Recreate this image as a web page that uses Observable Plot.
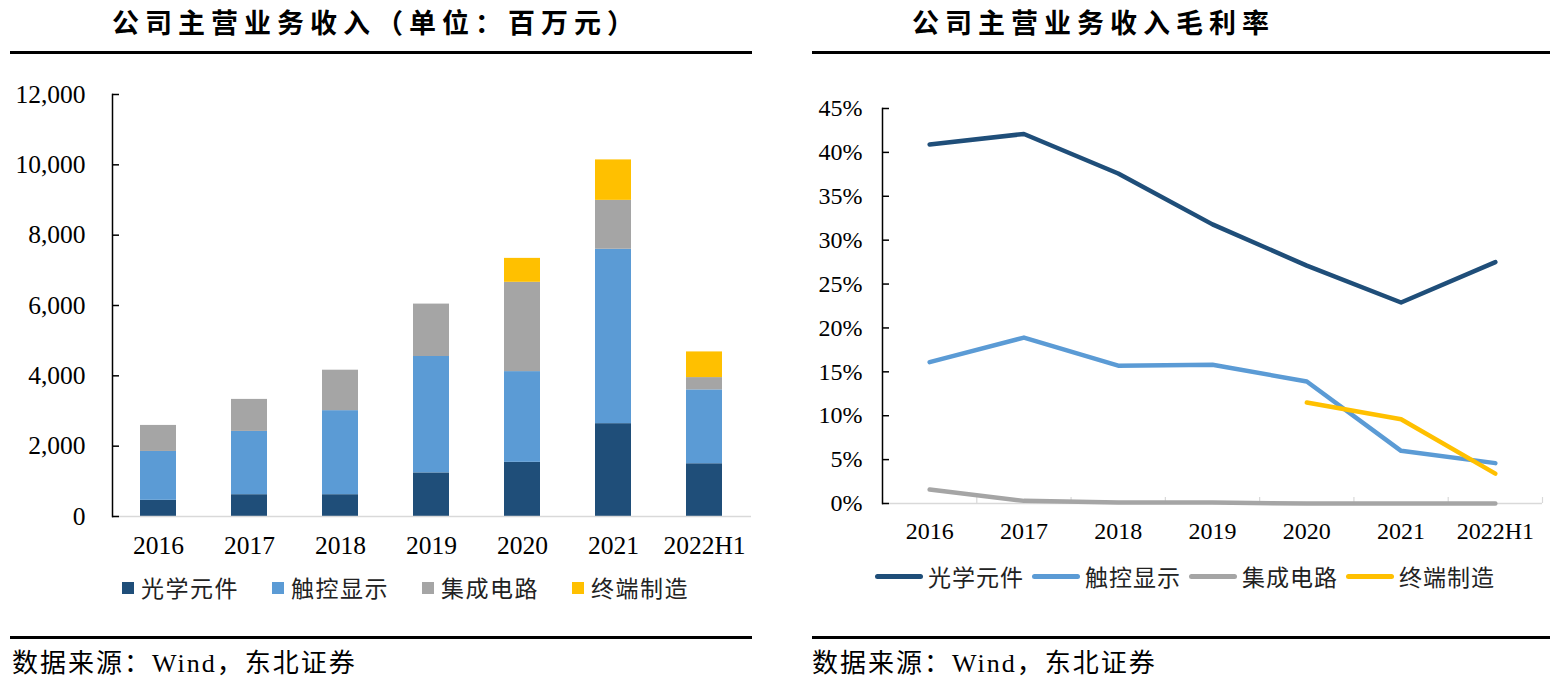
<!DOCTYPE html>
<html><head><meta charset="utf-8">
<script src="https://cdn.jsdelivr.net/npm/d3@7"></script>
<script src="https://cdn.jsdelivr.net/npm/@observablehq/plot@0.6"></script>
<style>
html,body{margin:0;padding:0;background:#fff}
body{width:1558px;height:686px;position:relative;overflow:hidden;font-family:"Liberation Serif","Noto Sans CJK SC",serif;color:#000}
.title{position:absolute;top:8px;font-family:"Noto Sans CJK SC";font-weight:bold;font-size:27px;line-height:27px;letter-spacing:6px;white-space:nowrap}
.rule{position:absolute;height:2.5px;background:#000}
.source{position:absolute;top:651px;font-size:26px;line-height:26px;letter-spacing:2px;white-space:nowrap;font-family:"Liberation Serif","Noto Sans CJK SC",serif}
.legend{position:absolute;display:flex;align-items:center;font-family:"Noto Sans CJK SC";font-size:23px;line-height:23px;white-space:nowrap;color:#222}
.legend .it{display:flex;align-items:center}
.sq{width:12px;height:12px;display:inline-block;margin-right:7px}
.ln{width:48px;height:5px;border-radius:3px;display:inline-block;margin-right:5px}
.chart{position:absolute}
</style>
</head><body>
<div class="title" style="left:112px">公司主营业务收入（单位：百万元）</div>
<div class="title" style="left:912px">公司主营业务收入毛利率</div>
<div class="rule" style="left:10px;width:742px;top:51px"></div>
<div class="rule" style="left:812px;width:738px;top:51px"></div>
<div id="left" class="chart" style="left:0;top:70px"></div>
<div id="right" class="chart" style="left:790px;top:80px"></div>
<div id="legL" class="legend" style="left:122px;top:576px;letter-spacing:1.5px"></div>
<div id="legR" class="legend" style="left:875px;top:565px;letter-spacing:1px"></div>
<div class="rule" style="left:10px;width:742px;top:636px"></div>
<div class="rule" style="left:812px;width:738px;top:636px"></div>
<div class="source" style="left:12px">数据来源：Wind，东北证券</div>
<div class="source" style="left:812px">数据来源：Wind，东北证券</div>
<script>
// ---- data ----
const categories = ["2016", "2017", "2018", "2019", "2020", "2021", "2022H1"];
const seriesNames = ["光学元件", "触控显示", "集成电路", "终端制造"];
const seriesColors = ["#1F4E79", "#5B9BD5", "#A5A5A5", "#FFC000"];

// revenue (百万元), stacked segments
const revOptical = [460, 620, 620, 1240, 1540, 2640, 1500];
const revTouch   = [1390, 1800, 2390, 3310, 2580, 4960, 2100];
const revIC      = [740, 910, 1150, 1490, 2540, 1390, 350];
const revTerminal= [null, null, null, null, 680, 1150, 730];
const revTicks = [0, 2000, 4000, 6000, 8000, 10000, 12000];

// gross margin
const gmOptical = [0.409, 0.421, 0.376, 0.318, 0.271, 0.229, 0.275];
const gmTouch   = [0.161, 0.189, 0.157, 0.158, 0.139, 0.060, 0.046];
const gmIC      = [0.016, 0.003, 0.001, 0.001, 0.000, 0.000, 0.000];
const gmTerminal= [null, null, null, null, 0.115, 0.096, 0.034];
const gmTicks = [0, 0.05, 0.10, 0.15, 0.20, 0.25, 0.30, 0.35, 0.40, 0.45];

// ---- build tables ----
const revSeries = [revOptical, revTouch, revIC, revTerminal];
const revRows = [];
revSeries.forEach((arr, s) => arr.forEach((v, i) => { if (v != null) revRows.push({cat: categories[i], series: seriesNames[s], v}); }));

const gmSeries = [gmOptical, gmTouch, gmIC, gmTerminal];
const gmRows = [];
gmSeries.forEach((arr, s) => arr.forEach((v, i) => { if (v != null) gmRows.push({i, series: seriesNames[s], v}); }));

// ---- left chart ----
{
  const W = 770, H = 500, mL = 112, mR = 19, mT = 24, mB = 54;
  const plot = Plot.plot({
    width: W, height: H, marginLeft: mL, marginRight: mR, marginTop: mT, marginBottom: mB,
    style: {fontFamily: "Liberation Serif, serif", fontSize: "25.5px", background: "transparent", color: "#000"},
    x: {type: "band", domain: categories, paddingInner: 0.6, paddingOuter: 0.3, label: null},
    y: {domain: [0, 12000], label: null},
    color: {domain: seriesNames, range: seriesColors},
    marks: [
      Plot.barY(revRows, {x: "cat", y: "v", fill: "series"}),
      Plot.ruleY([0], {stroke: "#d9d9d9", strokeWidth: 1.5}),
      Plot.frame({anchor: "left", stroke: "#000", strokeWidth: 1.5}),
      Plot.tickY(revTicks, {y: d => d, stroke: "#000", strokeWidth: 1.5, insetRight: W - mL - mR - 7}),
      Plot.axisY({ticks: revTicks, tickSize: 0, tickPadding: 27, tickFormat: d3.format(","), fill: "#000", fontSize: 25.5}),
      Plot.axisX({tickSize: 0, tickPadding: 19, fill: "#000", fontSize: 25.5})
    ]
  });
  document.getElementById("left").appendChild(plot);
}

// ---- right chart ----
{
  const W = 768, H = 490, mL = 92, mR = 16, mT = 28, mB = 67;
  const bounds = d3.range(-0.5, categories.length, 1);
  const plot = Plot.plot({
    width: W, height: H, marginLeft: mL, marginRight: mR, marginTop: mT, marginBottom: mB,
    style: {fontFamily: "Liberation Serif, serif", fontSize: "24px", background: "transparent", color: "#000"},
    x: {domain: [-0.5, categories.length - 0.5], label: null},
    y: {domain: [0, 0.45], label: null},
    color: {domain: seriesNames, range: seriesColors},
    marks: [
      Plot.ruleY([0], {stroke: "#d9d9d9", strokeWidth: 1.5}),
      Plot.tickX(bounds, {x: d => d, stroke: "#d9d9d9", strokeWidth: 1.2, insetTop: H - mT - mB - 6}),
      Plot.frame({anchor: "left", stroke: "#000", strokeWidth: 1.5}),
      Plot.tickY(gmTicks, {y: d => d, stroke: "#000", strokeWidth: 1.5, insetRight: W - mL - mR - 7}),
      Plot.line(gmRows, {x: "i", y: "v", z: "series", stroke: "series", strokeWidth: 4.5, strokeLinecap: "round", strokeLinejoin: "round"}),
      Plot.axisY({ticks: gmTicks, tickSize: 0, tickPadding: 20, tickFormat: d3.format(".0%"), fill: "#000", fontSize: 24}),
      Plot.axisX({ticks: d3.range(categories.length), tickSize: 0, tickPadding: 18, tickFormat: i => categories[i], fill: "#000", fontSize: 24})
    ]
  });
  document.getElementById("right").appendChild(plot);
}

// ---- legends ----
{
  const legL = document.getElementById("legL");
  seriesNames.forEach((n, k) => {
    const it = document.createElement("span");
    it.className = "it";
    it.style.marginRight = k < seriesNames.length - 1 ? "33px" : "0";
    it.innerHTML = `<span class="sq" style="background:${seriesColors[k]}"></span>${n}`;
    legL.appendChild(it);
  });
  const legR = document.getElementById("legR");
  seriesNames.forEach((n, k) => {
    const it = document.createElement("span");
    it.className = "it";
    it.style.marginRight = k < seriesNames.length - 1 ? "8px" : "0";
    it.innerHTML = `<span class="ln" style="background:${seriesColors[k]}"></span>${n}`;
    legR.appendChild(it);
  });
}
</script>
</body></html>
